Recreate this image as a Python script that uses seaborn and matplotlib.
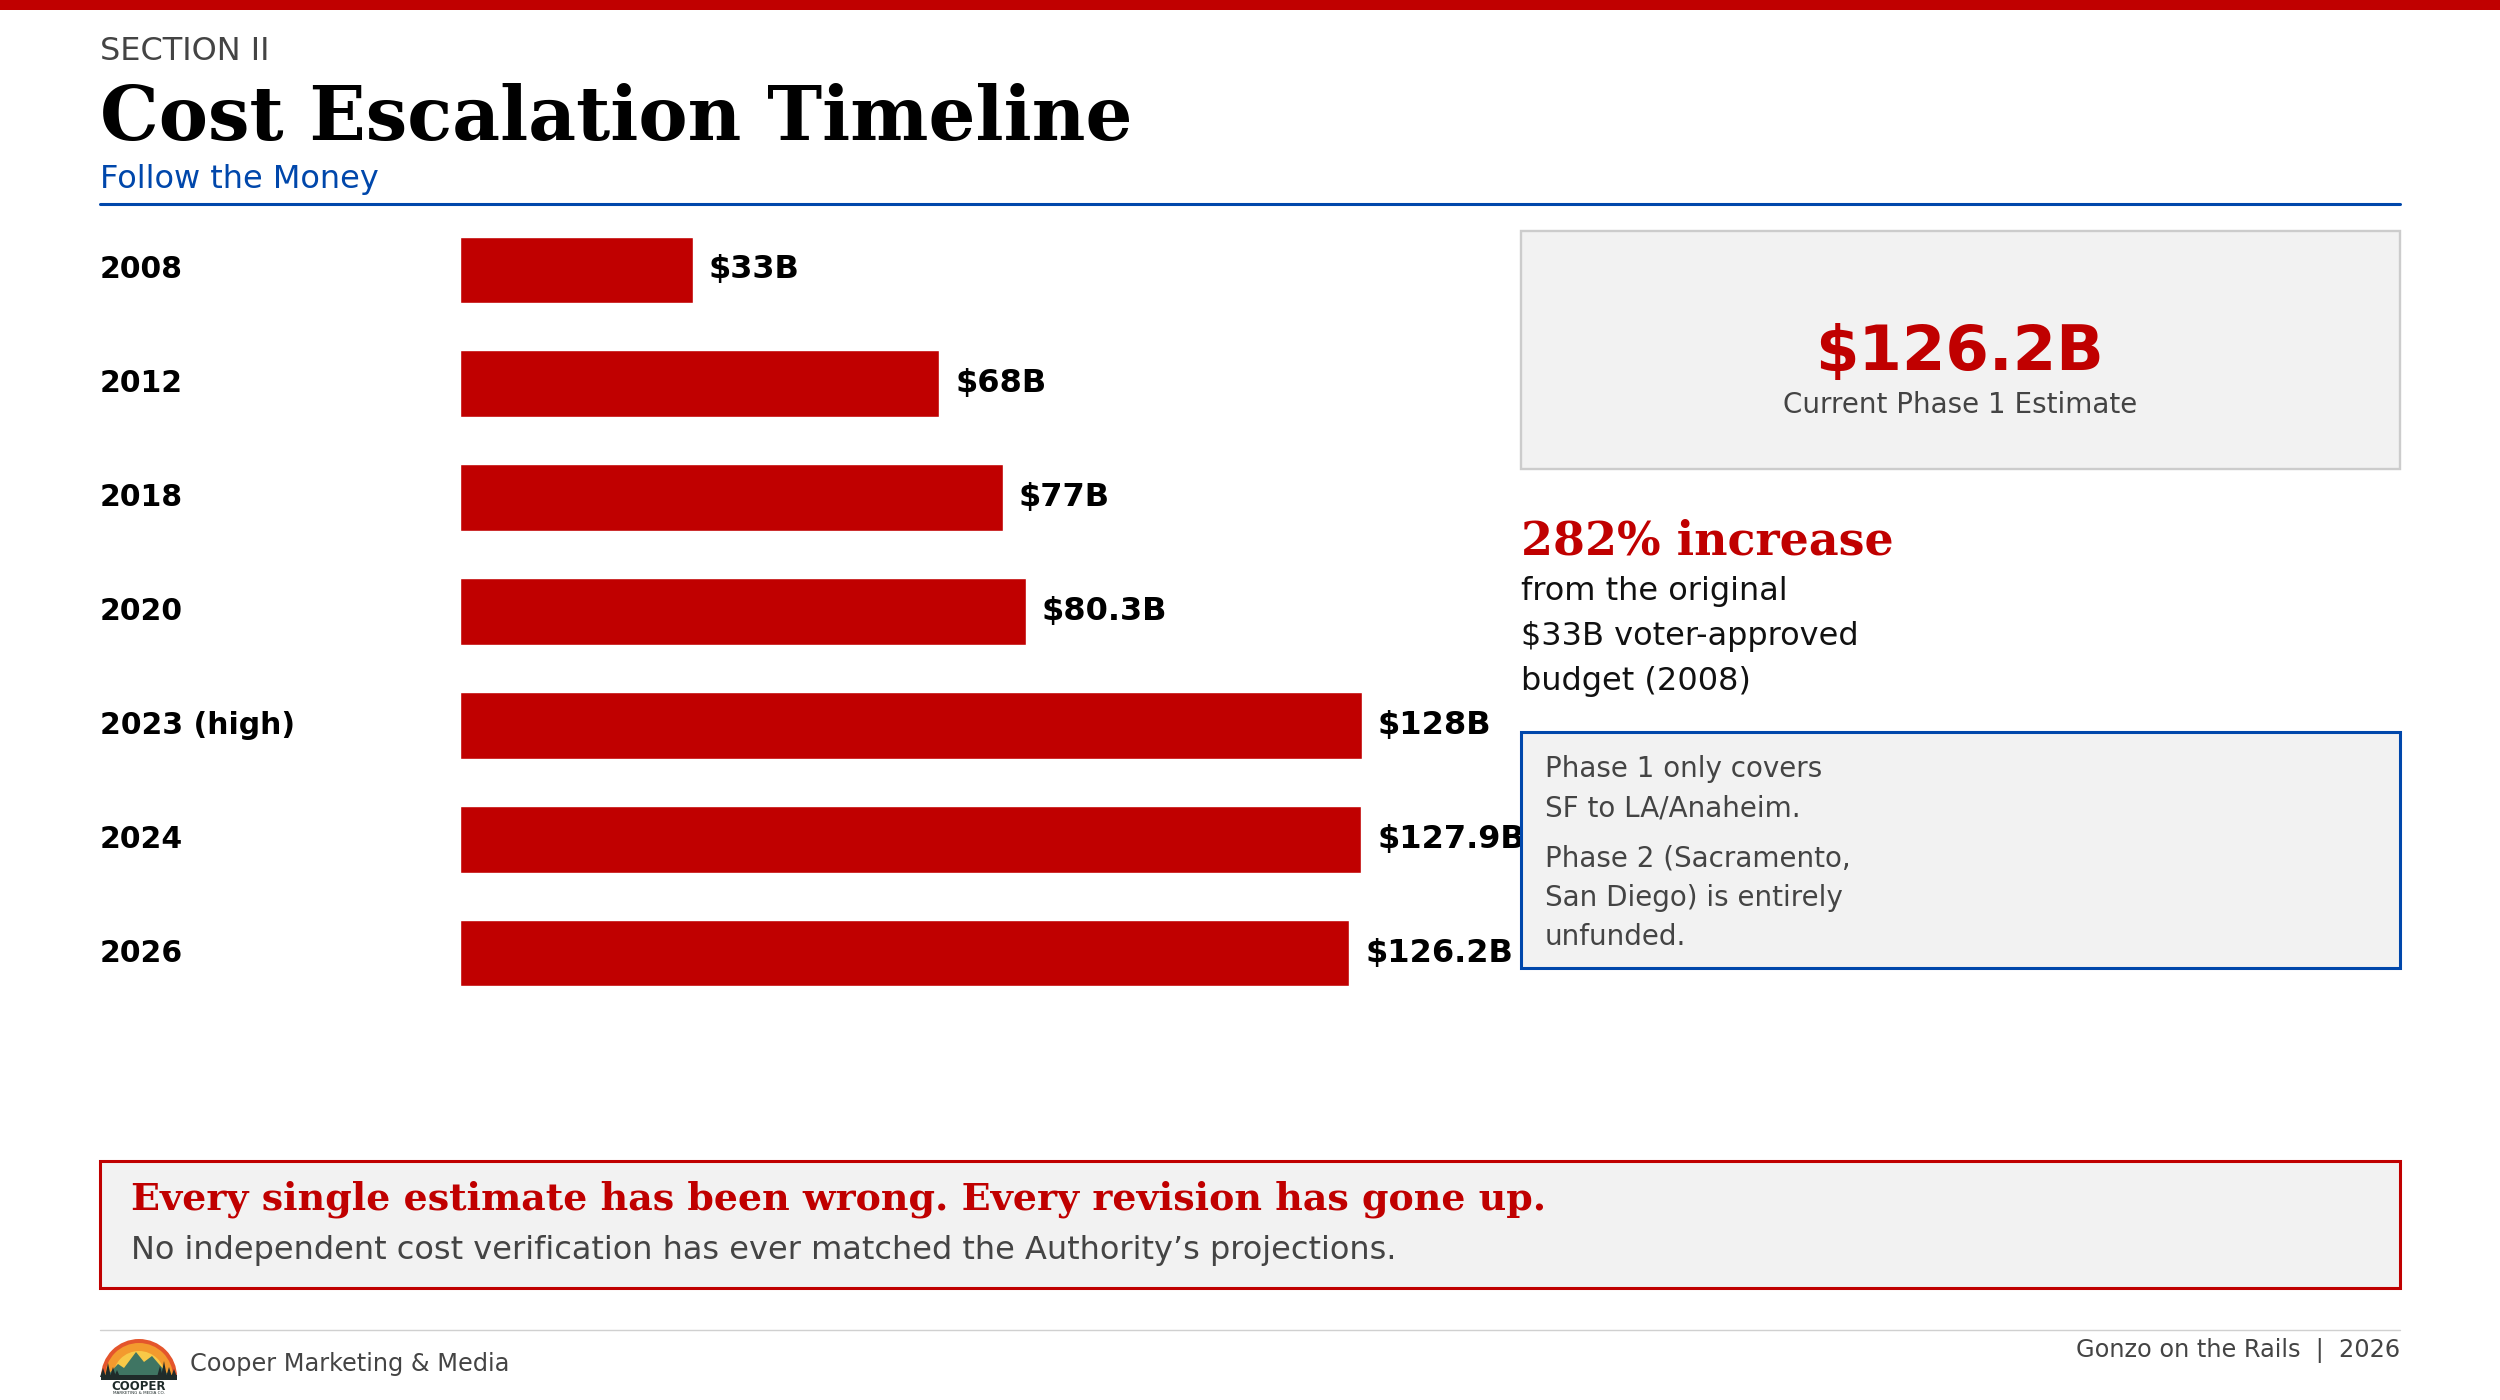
import matplotlib
matplotlib.use("Agg")
import matplotlib.pyplot as plt
import matplotlib.patches as mpatches
import matplotlib.transforms as mtransforms
from matplotlib.lines import Line2D
import seaborn as sns
import pandas as pd

# ---------------- data ----------------
years = ["2008", "2012", "2018", "2020", "2023 (high)", "2024", "2026"]
costs = [33, 68, 77, 80.3, 128, 127.9, 126.2]
cost_labels = ["$33B", "$68B", "$77B", "$80.3B", "$128B", "$127.9B", "$126.2B"]

section = "SECTION II"
title = "Cost Escalation Timeline"
subtitle = "Follow the Money"
kpi_value = "$126.2B"
kpi_label = "Current Phase 1 Estimate"
increase_head = "282% increase"
increase_lines = ["from the original", "$33B voter-approved", "budget (2008)"]
note_lines = [["Phase 1 only covers", "SF to LA/Anaheim."],
              ["Phase 2 (Sacramento,", "San Diego) is entirely", "unfunded."]]
callout_head = "Every single estimate has been wrong. Every revision has gone up."
callout_body = "No independent cost verification has ever matched the Authority\u2019s projections."
footer_left = "Cooper Marketing & Media"
footer_right = "Gonzo on the Rails  |  2026"

# ---------------- style ----------------
sns.set_theme(style="white")
plt.rcParams["font.family"] = ["DejaVu Sans"]

RED = "#C00000"
BLUE = "#0047AB"
GRAY = "#444444"
PANEL = "#F2F2F2"
SERIF = "DejaVu Serif"

W, H = 2500, 1400
fig = plt.figure(figsize=(25, 14), dpi=100)
fig.patch.set_facecolor("white")


def fx(x):
    return x / W


def fy(y):
    return 1 - y / H


def rect(x0, y0, x1, y1, **kw):
    r = mpatches.Rectangle((fx(x0), fy(y1)), (x1 - x0) / W, (y1 - y0) / H,
                           transform=fig.transFigure, **kw)
    fig.add_artist(r)
    return r


# top red bar
rect(0, 0, W, 10, facecolor=RED, edgecolor="none", zorder=0)

# header
fig.text(fx(100), fy(60), section, fontsize=23, color=GRAY, va="baseline")
fig.text(fx(100), fy(140), title, fontsize=53.2, family=SERIF, weight="bold",
         color="black", va="baseline")
fig.text(fx(100), fy(188), subtitle, fontsize=23, color=BLUE, va="baseline")
fig.add_artist(Line2D([fx(100), fx(2400)], [fy(204), fy(204)],
                      transform=fig.transFigure, color=BLUE, lw=2.2))

# ---------------- bar chart ----------------
df = pd.DataFrame({"year": years, "cost": costs})
ax = fig.add_axes([fx(460), fy(1010), (1500 - 460) / W, (1010 - 213) / H])
sns.barplot(data=df, x="cost", y="year", orient="h", color=RED,
            saturation=1, width=0.585, ax=ax, order=years)
ax.set_xlim(0, 147.6)
ax.set_ylim(len(years) - 0.5, -0.5)
ax.axis("off")

lab_tr = mtransforms.blended_transform_factory(fig.transFigure, ax.transData)
for i, (yr, v, lbl) in enumerate(zip(years, costs, cost_labels)):
    ax.text(fx(100), i, yr, transform=lab_tr, fontsize=21.5, weight="bold",
            color="black", va="center", ha="left")
    ax.annotate(lbl, xy=(v, i), xytext=(11.5, 0), textcoords="offset points",
                fontsize=23, weight="bold", color="black", va="center",
                ha="left", annotation_clip=False)

# ---------------- right panel ----------------
rect(1521, 231, 2400, 469, facecolor=PANEL, edgecolor="#CCCCCC", lw=1.7)
fig.text(fx(1960), fy(370), kpi_value, fontsize=45, weight="bold",
         color=RED, ha="center", va="baseline")
fig.text(fx(1960), fy(413), kpi_label, fontsize=20, color=GRAY,
         ha="center", va="baseline")

fig.text(fx(1521), fy(555), increase_head, fontsize=33, family=SERIF,
         weight="bold", color=RED, va="baseline")
for k, line in enumerate(increase_lines):
    fig.text(fx(1521), fy(600 + 45 * k), line, fontsize=23, color="#111111",
             va="baseline")

rect(1521, 732, 2400, 968, facecolor=PANEL, edgecolor=BLUE, lw=2.2)
yb = 777
for gi, group in enumerate(note_lines):
    for line in group:
        fig.text(fx(1545), fy(yb), line, fontsize=20, color=GRAY, va="baseline")
        yb += 39.5
    yb += 10

# ---------------- bottom callout ----------------
rect(100, 1161, 2400, 1288, facecolor=PANEL, edgecolor=RED, lw=2.2)
fig.text(fx(131), fy(1210), callout_head, fontsize=27.4, family=SERIF,
         weight="bold", color=RED, va="baseline")
fig.text(fx(131), fy(1259), callout_body, fontsize=23, color=GRAY,
         va="baseline")

# ---------------- footer ----------------
fig.add_artist(Line2D([fx(100), fx(2400)], [fy(1330), fy(1330)],
                      transform=fig.transFigure, color="#D0D0D0", lw=1.0))
fig.text(fx(190), fy(1371), footer_left, fontsize=17.3, color=GRAY, va="baseline")
fig.text(fx(2400), fy(1357), footer_right, fontsize=17.3, color=GRAY,
         va="baseline", ha="right")

# logo
lax = fig.add_axes([fx(100), fy(1398), 78 / W, 62 / H])
lax.set_xlim(0, 78)
lax.set_ylim(0, 62)
lax.axis("off")
cx, cy = 39, 21
lax.add_patch(mpatches.Wedge((cx, cy), 38, 0, 180, facecolor="#E4552C", edgecolor="none"))
lax.add_patch(mpatches.Wedge((cx, cy), 34, 0, 180, facecolor="#F39A2E", edgecolor="none"))
lax.add_patch(mpatches.Wedge((cx, cy), 26, 0, 180, facecolor="#F8C948", edgecolor="none"))
lax.add_patch(mpatches.Polygon([(6, cy), (18, 34), (24, 30), (36, 46), (44, 36),
                                (52, 42), (70, cy)], closed=True,
                               facecolor="#3F7563", edgecolor="none"))
trees = [(3, 30), (8, 35), (13, 31), (17, 28), (60, 32), (64, 37), (69, 31), (74, 29)]
for tx, th in trees:
    lax.add_patch(mpatches.Polygon([(tx - 3, cy), (tx, th), (tx + 3, cy)],
                                   closed=True, facecolor="#1F2B2A", edgecolor="none"))
lax.add_patch(mpatches.Rectangle((1, cy - 3), 76, 5, facecolor="#1F2B2A", edgecolor="none"))
lax.text(cx, 12, "COOPER", fontsize=8.5, weight="bold", color="#1F2B2A",
         ha="center", va="center")
lax.text(cx, 4.5, "MARKETING & MEDIA CO.", fontsize=3, color="#1F2B2A",
         ha="center", va="center")

fig.savefig("out.png", dpi=100, facecolor="white")
